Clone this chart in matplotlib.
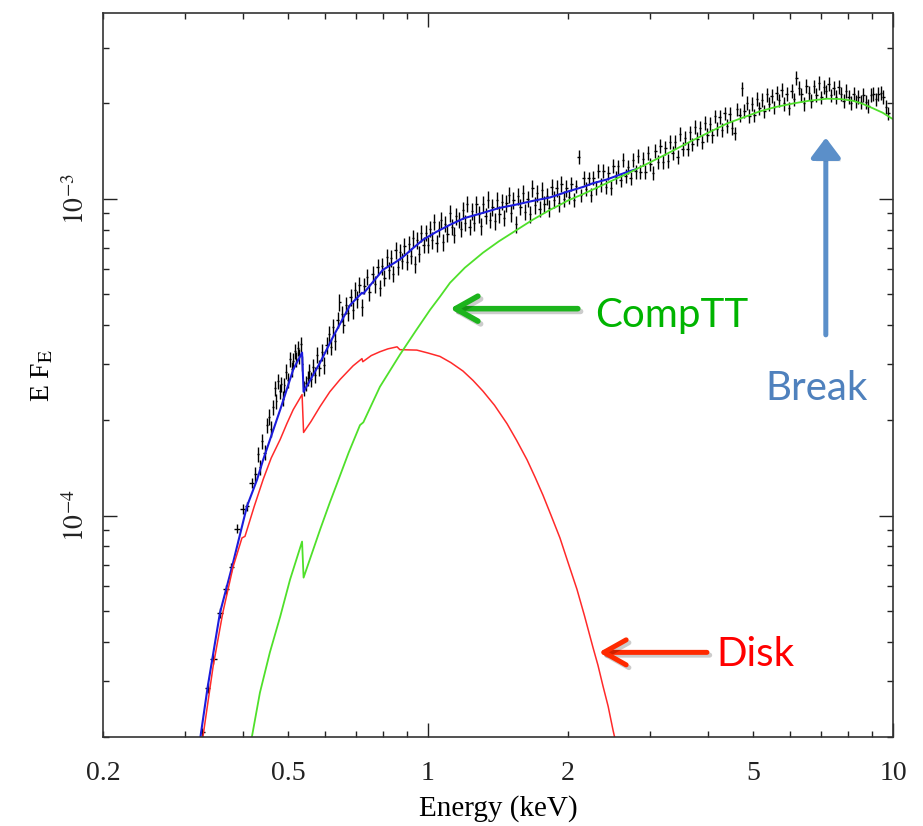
import numpy as np
import matplotlib.pyplot as plt
from matplotlib import patheffects as pe
from matplotlib.ticker import FixedLocator, FixedFormatter, NullFormatter

plt.rcParams['font.family'] = ['Liberation Serif', 'DejaVu Serif']
plt.rcParams['mathtext.fontset'] = 'stix'

# ---- spectrum data (flux in units of 1e-4) ----
energy_lo = [0.327, 0.336, 0.345, 0.357, 0.368, 0.377, 0.389, 0.400, 0.408, 0.418]
flux_lo = [0.207, 0.286, 0.352, 0.494, 0.585, 0.686, 0.91, 1.05, 1.07, 1.27]

energy_o = [0.425, 0.431, 0.436, 0.440, 0.445, 0.450, 0.454, 0.459, 0.463, 0.468,
            0.472, 0.476, 0.480, 0.484, 0.487, 0.491, 0.495, 0.500, 0.505, 0.509,
            0.513, 0.517, 0.521, 0.525, 0.529, 0.533, 0.537, 0.542, 0.546, 0.551,
            0.556, 0.561]
flux_o = [1.35, 1.56, 1.42, 1.72, 1.58, 1.93, 2.05, 1.88, 2.20, 2.52,
          2.30, 2.66, 2.47, 2.60, 2.34, 2.58, 2.85, 2.68, 3.12, 2.90,
          3.08, 3.30, 3.12, 3.38, 3.18, 3.48, 3.02, 2.52, 2.62, 2.72,
          2.86, 2.70]

energy_mid = [0.566, 0.571, 0.578, 0.584, 0.591, 0.597, 0.606, 0.612, 0.618, 0.625,
              0.632, 0.639, 0.645, 0.652, 0.658, 0.665, 0.672, 0.682, 0.689, 0.697,
              0.704, 0.712, 0.721, 0.729, 0.739, 0.748, 0.761, 0.770, 0.779, 0.788,
              0.797, 0.806, 0.815, 0.824, 0.833, 0.842, 0.852, 0.861, 0.870, 0.880,
              0.890, 0.900, 0.910, 0.920, 0.929, 0.938, 0.948, 0.958, 0.968, 0.978,
              0.988, 0.998]
flux_mid = [2.95, 2.78, 3.22, 2.93, 3.28, 2.98, 3.45, 3.73, 3.41, 3.93,
            3.55, 4.15, 4.72, 4.33, 4.01, 4.61, 4.37, 4.89, 4.45, 5.14,
            4.82, 5.35, 4.55, 5.32, 5.67, 5.08, 5.78, 5.38, 6.10, 5.24,
            6.13, 5.64, 6.54, 5.94, 6.49, 5.80, 6.87, 6.11, 6.81, 6.37,
            7.11, 6.33, 7.21, 6.62, 7.52, 6.21, 7.41, 6.71, 7.80, 7.15,
            7.82, 7.16]

energy_1k = [1.010, 1.021, 1.032, 1.043, 1.054, 1.066, 1.077, 1.089, 1.101, 1.113,
             1.125, 1.137, 1.150, 1.163, 1.176, 1.189, 1.202, 1.215, 1.229, 1.243,
             1.257, 1.271, 1.285, 1.300, 1.315, 1.330, 1.345, 1.360, 1.376, 1.392,
             1.408, 1.424, 1.440, 1.457, 1.474, 1.491, 1.508, 1.526, 1.544, 1.562,
             1.580, 1.599, 1.618, 1.637, 1.657, 1.677, 1.697, 1.717, 1.738, 1.759,
             1.780, 1.801, 1.823, 1.845, 1.867, 1.890, 1.913, 1.936, 1.960, 1.984]
flux_1k = [8.05, 7.40, 8.45, 7.25, 8.05, 8.60, 7.30, 8.35, 7.75, 9.00,
           8.15, 7.70, 8.80, 8.60, 8.05, 9.20, 8.40, 9.65, 8.15, 9.15,
           8.40, 9.60, 8.95, 8.20, 9.60, 8.85, 9.95, 8.60, 9.40, 8.50,
           9.90, 8.95, 9.80, 8.70, 9.70, 10.30, 9.00, 9.90, 8.30, 10.20,
           9.45, 10.40, 9.10, 10.00, 8.95, 10.80, 9.55, 10.40, 9.30, 10.65,
           9.60, 10.20, 9.35, 10.90, 9.95, 10.80, 9.70, 11.15, 10.00, 10.80]

energy_hi = [2.008, 2.033, 2.058, 2.083, 2.108, 2.134, 2.160, 2.187, 2.214, 2.241,
             2.269, 2.297, 2.325, 2.354, 2.383, 2.412, 2.442, 2.472, 2.503, 2.534,
             2.565, 2.597, 2.629, 2.661, 2.694, 2.727, 2.761, 2.795, 2.829, 2.864,
             2.899, 2.935, 2.971, 3.008, 3.045, 3.083, 3.121, 3.160, 3.199, 3.238,
             3.278, 3.318, 3.359, 3.400, 3.442, 3.485, 3.528, 3.571, 3.615, 3.660,
             3.705, 3.751, 3.797, 3.844, 3.891, 3.939, 3.988, 4.037, 4.087, 4.137,
             4.188, 4.240, 4.292, 4.345, 4.399, 4.453, 4.508, 4.564, 4.620, 4.677,
             4.735, 4.793, 4.852, 4.912, 4.973, 5.034, 5.096, 5.159, 5.223, 5.287,
             5.352, 5.418, 5.485, 5.553, 5.621, 5.691, 5.761, 5.832, 5.904, 5.977,
             6.051, 6.125, 6.201, 6.277, 6.355, 6.433, 6.513, 6.593, 6.675, 6.757,
             6.840, 6.925, 7.010, 7.097, 7.185, 7.273, 7.363, 7.455, 7.547, 7.640,
             7.735, 7.830, 7.927, 8.025, 8.124, 8.225, 8.326, 8.429, 8.533, 8.639,
             8.746, 8.854, 8.963, 9.074, 9.187, 9.300, 9.415, 9.532, 9.650, 9.769]
flux_hi = [10.15, 11.15, 9.90, 10.95, 13.60, 10.25, 11.65, 10.75, 11.60, 10.30,
           11.65, 10.85, 12.25, 11.10, 12.25, 10.90, 12.05, 10.85, 12.70, 11.70,
           12.65, 11.50, 13.30, 11.80, 12.60, 11.60, 13.25, 12.20, 13.70, 12.15,
           13.35, 12.15, 13.95, 12.85, 12.05, 14.15, 13.10, 14.70, 13.05, 14.45,
           13.15, 15.15, 14.00, 15.10, 13.55, 16.00, 14.40, 15.60, 14.35, 16.20,
           14.85, 16.85, 15.45, 16.75, 15.15, 17.40, 15.90, 17.20, 15.85, 18.20,
           16.65, 18.15, 16.55, 18.60, 17.00, 18.55, 16.75, 16.10, 19.15, 18.40,
           22.30, 19.00, 20.05, 18.30, 19.95, 18.35, 20.70, 19.30, 20.55, 18.90,
           21.35, 19.90, 21.15, 19.45, 21.55, 20.45, 22.10, 20.00, 21.45, 19.30,
           21.95, 20.60, 24.10, 22.35, 21.35, 20.00, 22.75, 21.55, 20.35, 22.65,
           21.25, 23.20, 20.90, 22.60, 21.85, 23.10, 21.20, 22.40, 20.95, 22.55,
           21.50, 20.40, 21.95, 21.00, 20.10, 21.40, 20.30, 21.00, 20.20, 21.30,
           20.20, 19.70, 21.25, 21.50, 20.60, 21.40, 21.55, 21.00, 19.50, 18.60]

# relative error bar size (percent) per chunk
err_pct = [3.5, 5.5, 6.0, 6.0, 5.0]

# ---- model curves (flux in units of 1e-4) ----
total_e = [0.324, 0.336, 0.357, 0.379, 0.408, 0.429, 0.442, 0.481, 0.513, 0.536,
           0.540, 0.586, 0.625, 0.680, 0.721, 0.726, 0.800, 0.850, 0.884, 0.930,
           0.976, 1.040, 1.115, 1.200, 1.313, 1.420, 1.553, 1.680, 1.830, 2.000,
           2.155, 2.264, 2.420, 2.680, 2.800]
total_f = [0.200, 0.289, 0.494, 0.690, 1.07, 1.30, 1.50, 2.16, 2.89, 3.27,
           2.46, 3.04, 3.67, 4.62, 5.05, 5.02, 5.97, 6.30, 6.56, 7.00,
           7.43, 7.85, 8.28, 8.70, 9.03, 9.35, 9.60, 9.85, 10.1, 10.55,
           10.9, 11.2, 11.5, 12.15, 12.4]

disk_e = [0.328, 0.345, 0.362, 0.381, 0.398, 0.404, 0.423, 0.442, 0.460, 0.481,
          0.497, 0.513, 0.536, 0.540, 0.560, 0.586, 0.615, 0.647, 0.690, 0.721,
          0.724, 0.755, 0.788, 0.820, 0.858, 0.870, 0.946, 1.000, 1.061, 1.120,
          1.189, 1.250, 1.313, 1.390, 1.479, 1.550, 1.633, 1.700, 1.767, 1.840,
          1.922, 2.000, 2.091, 2.170, 2.264, 2.320, 2.378, 2.440, 2.500, 2.550]
disk_f = [0.200, 0.334, 0.494, 0.690, 0.85, 0.86, 1.07, 1.30, 1.52, 1.74,
          1.95, 2.16, 2.41, 1.83, 1.98, 2.21, 2.46, 2.69, 2.97, 3.13,
          3.06, 3.20, 3.29, 3.36, 3.41, 3.34, 3.33, 3.26, 3.18, 3.04,
          2.86, 2.67, 2.47, 2.23, 1.95, 1.73, 1.50, 1.32, 1.16, 1.00,
          0.850, 0.712, 0.585, 0.483, 0.383, 0.337, 0.290, 0.250, 0.210, 0.185]

comptt_e = [0.418, 0.435, 0.457, 0.481, 0.505, 0.536, 0.540, 0.586, 0.615, 0.637,
            0.675, 0.714, 0.726, 0.788, 0.870, 0.940, 1.010, 1.061, 1.115, 1.200,
            1.313, 1.420, 1.553, 1.680, 1.830, 1.922, 2.000, 2.155, 2.264, 2.420,
            2.680, 3.150, 3.710, 4.400, 5.180, 5.600, 6.100, 6.600, 7.210, 7.700,
            8.200, 8.600, 9.060, 9.500, 9.900, 10.0]
comptt_f = [0.200, 0.276, 0.370, 0.480, 0.628, 0.828, 0.637, 0.903, 1.10, 1.26,
            1.58, 1.93, 1.97, 2.55, 3.22, 3.82, 4.46, 4.91, 5.43, 6.06,
            6.76, 7.34, 7.98, 8.59, 9.23, 9.57, 9.88, 10.35, 10.7, 11.2,
            12.0, 13.5, 15.3, 17.3, 18.9, 19.5, 20.0, 20.4, 20.7, 20.65,
            20.4, 19.95, 19.3, 18.7, 18.0, 17.85]

unit = 1e-4

fig = plt.figure(figsize=(9.23, 8.26), dpi=100)
ax = fig.add_axes([103 / 923, 89 / 826, 790 / 923, 724 / 826])

# data with error bars (bins touch each other)
chunks = [(energy_lo, flux_lo), (energy_o, flux_o), (energy_mid, flux_mid),
          (energy_1k, flux_1k), (energy_hi, flux_hi)]
e_all = np.concatenate([np.array(c[0]) for c in chunks])
f_all = np.concatenate([np.array(c[1]) for c in chunks]) * unit
err_all = np.concatenate([np.full(len(c[0]), p / 100.0) for c, p in zip(chunks, err_pct)])
edges = np.sqrt(e_all[:-1] * e_all[1:])
lo = np.concatenate([[e_all[0] ** 2 / edges[0]], edges])
hi = np.concatenate([edges, [e_all[-1] ** 2 / edges[-1]]])
ax.errorbar(e_all, f_all, xerr=[e_all - lo, hi - e_all], yerr=f_all * err_all,
            fmt='none', ecolor='black', elinewidth=1.0)

ax.plot(total_e, np.array(total_f) * unit, color='#1c1cdc', lw=1.5)
ax.plot(disk_e, np.array(disk_f) * unit, color='#ff2a2a', lw=1.1)
ax.plot(comptt_e, np.array(comptt_f) * unit, color='#4fe02a', lw=1.3)

ax.set_xscale('log')
ax.set_yscale('log')
ax.set_xlim(0.2, 10)
ax.set_ylim(2.0e-5, 3.86e-3)

# ticks
ax.xaxis.set_major_locator(FixedLocator([1, 10]))
ax.xaxis.set_major_formatter(FixedFormatter(['1', '10']))
minor_x = [0.2, 0.3, 0.4, 0.5, 0.6, 0.7, 0.8, 0.9, 2, 3, 4, 5, 6, 7, 8, 9]
minor_lab = ['0.2', '', '', '0.5', '', '', '', '', '2', '', '', '5', '', '', '', '']
ax.xaxis.set_minor_locator(FixedLocator(minor_x))
ax.xaxis.set_minor_formatter(FixedFormatter(minor_lab))
ax.yaxis.set_major_locator(FixedLocator([1e-4, 1e-3]))
ax.yaxis.set_major_formatter(FixedFormatter([r'$10^{-4}$', r'$10^{-3}$']))
minor_y = [k * 1e-5 for k in range(2, 10)] + [k * 1e-4 for k in range(2, 10)] + [2e-3, 3e-3]
ax.yaxis.set_minor_locator(FixedLocator(minor_y))
ax.yaxis.set_minor_formatter(NullFormatter())

ax.tick_params(which='both', direction='in', top=True, right=True,
               labelsize=20, width=1, colors='#222222')
ax.tick_params(which='major', length=10)
ax.tick_params(which='minor', length=4.5)
ax.tick_params(axis='x', which='both', pad=17)
ax.tick_params(axis='y', which='both', pad=9, labelrotation=90)
for lab in ax.get_yticklabels():
    lab.set_verticalalignment('center')
for s in ax.spines.values():
    s.set_linewidth(1.2)
    s.set_color('#333333')

ax.set_xlabel('Energy (keV)', fontsize=21, labelpad=7)
ax.set_ylabel(r'E F$_{\mathrm{E}}$', fontsize=20, labelpad=6)

# annotations (arrows get a soft drop shadow)
line_shadow = [pe.SimpleLineShadow(offset=(2, -2), alpha=0.2), pe.Normal()]
a1 = ax.annotate('', xy=(1.115, 4.5e-4), xytext=(2.10, 4.5e-4),
                 arrowprops=dict(arrowstyle='->,head_length=0.8,head_width=0.45',
                                 color='#1cb41c', lw=4, mutation_scale=20,
                                 capstyle='round', joinstyle='round',
                                 shrinkA=0, shrinkB=0))
a1.arrow_patch.set_path_effects(line_shadow)
ax.text(2.284, 3.95e-4, 'CompTT', color='#00b400', fontsize=29, family='Lato',
        ha='left', va='baseline')

a2 = ax.annotate('', xy=(7.17, 1.56e-3), xytext=(7.17, 3.72e-4),
                 arrowprops=dict(arrowstyle='-|>,head_length=0.6,head_width=0.45',
                                 color='#5b8fc9', lw=3.6, mutation_scale=20,
                                 shrinkA=0, shrinkB=0))
a2.arrow_patch.set_path_effects([pe.withSimplePatchShadow(offset=(2, -2), alpha=0.2)])
ax.text(5.305, 2.32e-4, 'Break', color='#4f81bd', fontsize=29, family='Lato',
        ha='left', va='baseline')

a3 = ax.annotate('', xy=(2.33, 3.7e-5), xytext=(3.98, 3.7e-5),
                 arrowprops=dict(arrowstyle='->,head_length=0.8,head_width=0.45',
                                 color='#ff2a00', lw=3.6, mutation_scale=20,
                                 capstyle='round', joinstyle='round',
                                 shrinkA=0, shrinkB=0))
a3.arrow_patch.set_path_effects(line_shadow)
ax.text(4.18, 3.34e-5, 'Disk', color='#ff0000', fontsize=29, family='Lato',
        ha='left', va='baseline')

fig.savefig('out.png', dpi=100)
